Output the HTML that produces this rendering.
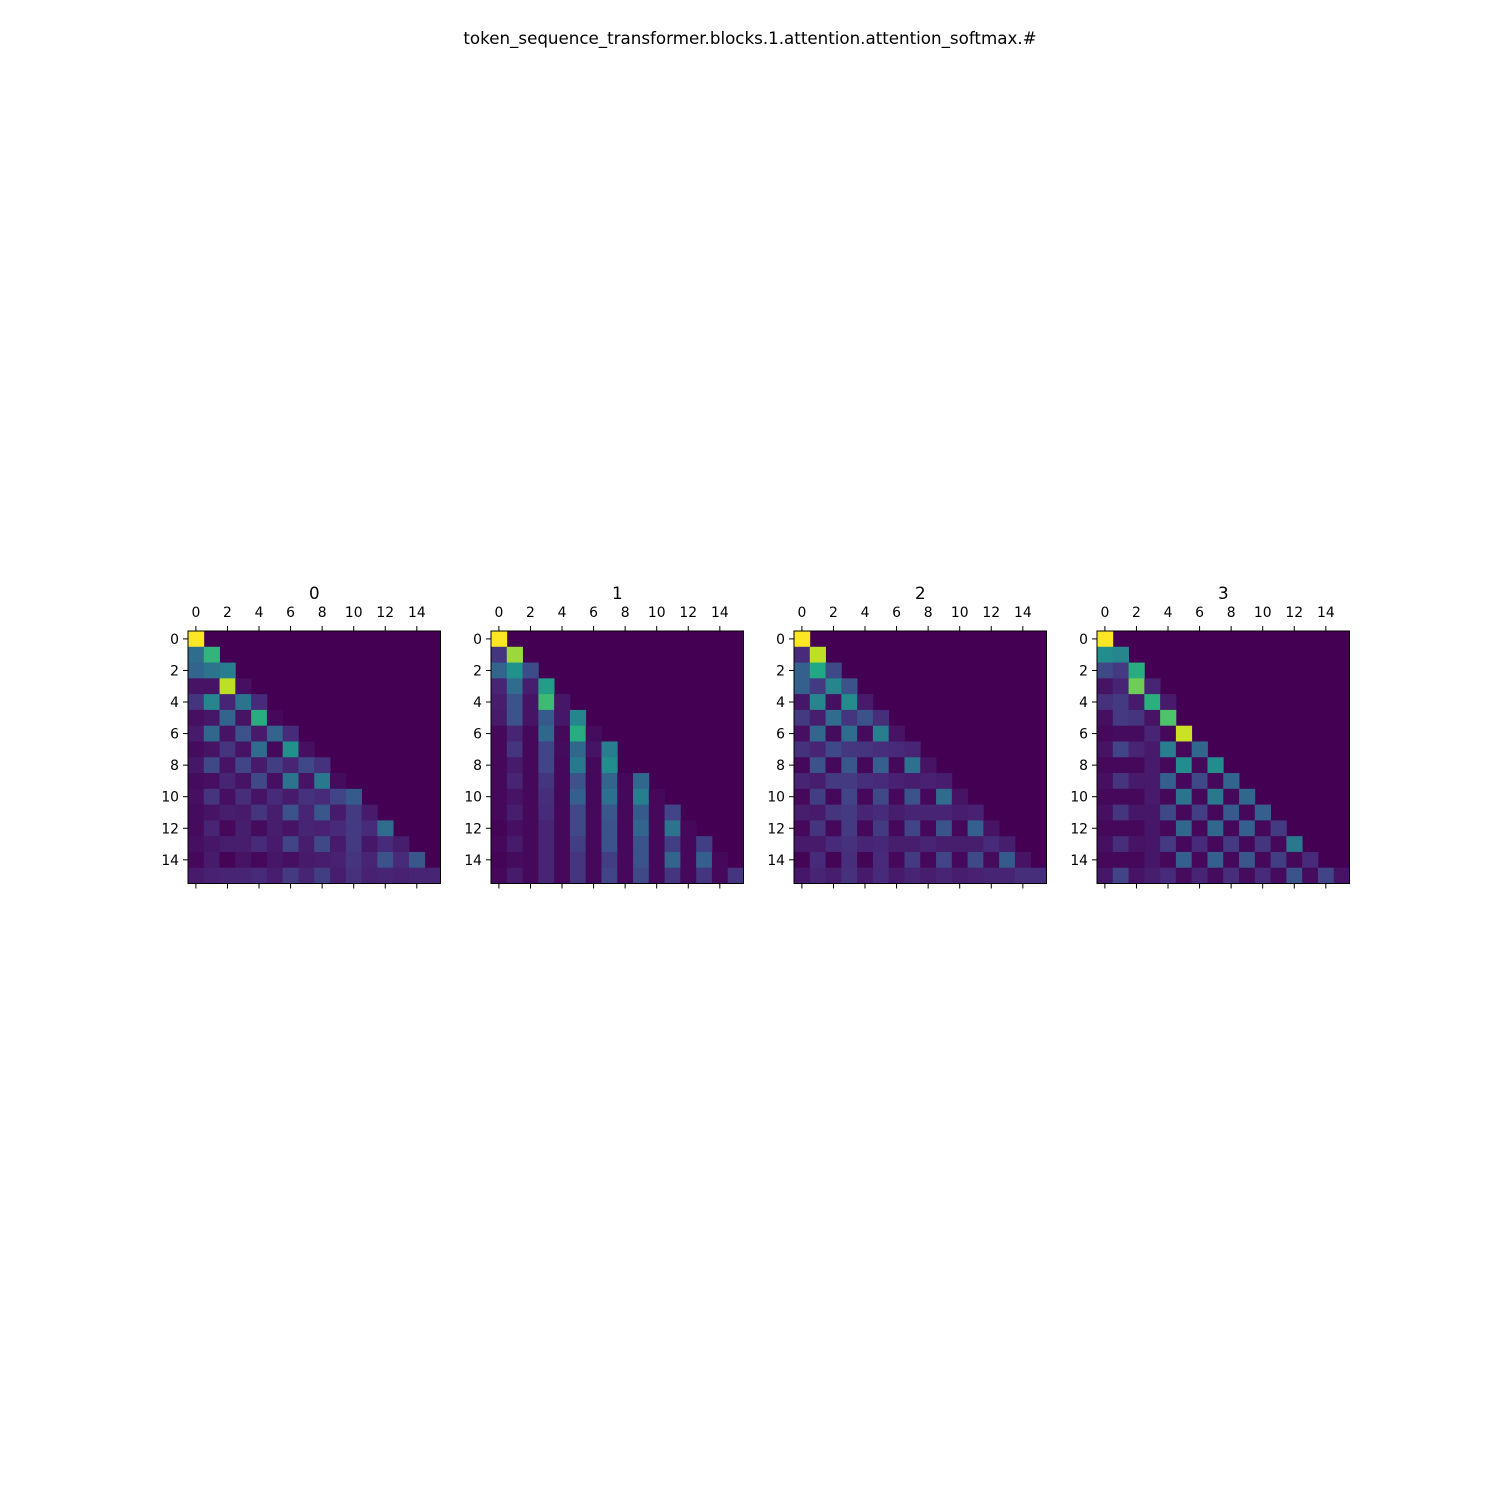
<!DOCTYPE html>
<html><head><meta charset="utf-8"><style>
body{margin:0;background:#fff;}
svg{display:block;font-family:"DejaVu Sans","Liberation Sans",sans-serif;}
</style></head><body>
<svg id="fig" width="1500" height="1500" viewBox="0 0 1500 1500">
<rect width="1500" height="1500" fill="#fff"/>
<text x="750" y="44" text-anchor="middle" font-size="16.7" fill="#000">token_sequence_transformer.blocks.1.attention.attention_softmax.#</text>
</svg>
<script>
const headTitles = ["0","1","2","3"];
const tickLabels = ["0","2","4","6","8","10","12","14"];
const head0 = [[1],[0.35,0.65],[0.32,0.38,0.42],[0.05,0.05,0.9,0.04],[0.15,0.45,0.1,0.38,0.12],[0.04,0.06,0.32,0.05,0.62,0.02],[0.07,0.33,0.05,0.25,0.07,0.32,0.12],[0.03,0.05,0.15,0.05,0.35,0.02,0.5,0.04],[0.06,0.22,0.05,0.2,0.07,0.18,0.1,0.22,0.14],[0.03,0.04,0.1,0.05,0.22,0.04,0.38,0.05,0.4,0.03],[0.04,0.15,0.04,0.13,0.05,0.12,0.07,0.14,0.12,0.2,0.28],[0.03,0.05,0.08,0.07,0.15,0.08,0.25,0.1,0.27,0.07,0.17,0.07],[0.03,0.1,0.02,0.08,0.03,0.08,0.05,0.1,0.09,0.12,0.17,0.12,0.35],[0.04,0.06,0.08,0.08,0.12,0.07,0.2,0.08,0.22,0.07,0.17,0.06,0.12,0.08],[0.02,0.07,0.01,0.05,0.02,0.06,0.04,0.07,0.08,0.09,0.15,0.1,0.25,0.12,0.27],[0.07,0.09,0.1,0.1,0.12,0.08,0.17,0.1,0.18,0.08,0.14,0.09,0.1,0.09,0.1,0.1]];
const head1 = [[1],[0.15,0.85],[0.32,0.5,0.23],[0.1,0.35,0.08,0.55],[0.08,0.25,0.05,0.68,0.06],[0.07,0.25,0.05,0.28,0.06,0.45],[0.02,0.1,0.02,0.33,0.02,0.62,0.03],[0.02,0.15,0.02,0.2,0.03,0.33,0.05,0.42],[0.02,0.07,0.02,0.2,0.02,0.4,0.02,0.48],[0.02,0.1,0.02,0.15,0.02,0.25,0.02,0.32,0.02,0.33],[0.02,0.05,0.02,0.13,0.02,0.3,0.02,0.36,0.02,0.42,0.02],[0.02,0.08,0.02,0.12,0.02,0.22,0.02,0.27,0.02,0.28,0.02,0.2],[0.01,0.04,0.02,0.1,0.02,0.22,0.02,0.25,0.02,0.32,0.02,0.38,0.02],[0.02,0.07,0.02,0.1,0.02,0.18,0.02,0.25,0.02,0.25,0.02,0.18,0.02,0.18],[0.01,0.03,0.02,0.1,0.02,0.15,0.02,0.18,0.02,0.25,0.02,0.32,0.02,0.3,0.02],[0.02,0.07,0.02,0.1,0.02,0.15,0.02,0.2,0.02,0.22,0.02,0.15,0.02,0.15,0.02,0.15]];
const head2 = [[1],[0.12,0.9],[0.3,0.6,0.22],[0.3,0.17,0.45,0.25],[0.06,0.45,0.04,0.48,0.07],[0.17,0.08,0.35,0.15,0.25,0.13],[0.04,0.33,0.03,0.35,0.03,0.42,0.05],[0.14,0.1,0.22,0.16,0.15,0.13,0.12,0.1],[0.02,0.25,0.02,0.27,0.02,0.3,0.02,0.37,0.05],[0.1,0.08,0.17,0.17,0.13,0.12,0.09,0.08,0.09,0.08],[0.02,0.18,0.02,0.2,0.02,0.22,0.02,0.25,0.02,0.35,0.05],[0.08,0.07,0.15,0.17,0.1,0.12,0.08,0.1,0.1,0.1,0.08,0.09],[0.02,0.15,0.02,0.17,0.02,0.17,0.02,0.2,0.02,0.26,0.02,0.3,0.05],[0.07,0.07,0.12,0.14,0.1,0.11,0.08,0.08,0.1,0.08,0.08,0.08,0.12,0.08],[0.01,0.12,0.01,0.13,0.01,0.12,0.02,0.17,0.02,0.2,0.02,0.22,0.03,0.28,0.05],[0.06,0.1,0.08,0.14,0.07,0.12,0.07,0.1,0.08,0.1,0.08,0.09,0.1,0.1,0.13,0.13]];
const head3 = [[1],[0.48,0.45],[0.22,0.17,0.62],[0.05,0.1,0.78,0.1],[0.14,0.17,0.07,0.63,0.07],[0.04,0.17,0.15,0.05,0.72],[0.02,0.03,0.03,0.1,0.02,0.92],[0.05,0.2,0.1,0.07,0.42,0.02,0.33],[0.02,0.02,0.02,0.07,0.02,0.48,0.02,0.48],[0.04,0.15,0.07,0.07,0.3,0.02,0.22,0.02,0.32],[0.02,0.02,0.02,0.07,0.02,0.38,0.02,0.4,0.02,0.33],[0.04,0.15,0.06,0.06,0.22,0.02,0.18,0.02,0.28,0.02,0.3],[0.02,0.02,0.02,0.06,0.02,0.33,0.02,0.33,0.02,0.3,0.02,0.17],[0.04,0.13,0.05,0.06,0.17,0.02,0.12,0.02,0.17,0.02,0.15,0.02,0.4],[0.02,0.02,0.02,0.06,0.02,0.3,0.02,0.3,0.02,0.27,0.02,0.18,0.02,0.12],[0.06,0.2,0.05,0.08,0.12,0.03,0.1,0.03,0.13,0.03,0.12,0.03,0.25,0.03,0.2,0.05]];
const heads = [head0, head1, head2, head3];

const VIR = ["#440154","#482475","#414487","#355f8d","#2a788e","#21918c","#22a884","#44bf70","#7ad151","#bddf26","#fde725"];
function hex(h){return [1,3,5].map(i=>parseInt(h.substr(i,2),16));}
function viridis(t){t=Math.max(0,Math.min(1,t));const p=t*10,i=Math.min(9,Math.floor(p)),f=p-i;const a=hex(VIR[i]),b=hex(VIR[i+1]);return 'rgb('+a.map((v,k)=>Math.round(v+(b[k]-v)*f)).join(',')+')';}
const NS="http://www.w3.org/2000/svg";
const svgRoot=document.getElementById('fig');
function mk(tag,attrs,parent){const e=document.createElementNS(NS,tag);for(const k in attrs)e.setAttribute(k,attrs[k]);parent.appendChild(e);return e;}
const N=16, gridSize=252.5, gridTop=631, gridLefts=[188,491,794,1097];
heads.forEach((data,h)=>{
  const L=gridLefts[h], cell=gridSize/N;
  const xs=c=>L+c*cell, ys=r=>gridTop+r*cell;
  const g=mk('g',{},svgRoot);
  
  
  const bg=mk('rect',{x:L,y:gridTop,width:gridSize,height:gridSize,fill:viridis(0)},g);
  
  
  data.forEach((row,r)=>row.forEach((v,c)=>{
    const cr=mk('rect',{x:xs(c),y:ys(r),width:cell+0.4,height:cell+0.4,fill:viridis(v)},g);
    
    
  }));
  const fr=mk('rect',{x:L,y:gridTop,width:gridSize,height:gridSize,fill:'none',stroke:'#000','stroke-width':1},g);
  
  
  const t=mk('text',{x:L+gridSize/2,y:599,'text-anchor':'middle','font-size':16.7,fill:'#000'},g);
  t.textContent=headTitles[h];
  
  
  tickLabels.forEach((lab,i)=>{
    const idx=i*2, cx=xs(idx+0.5), cy=ys(idx+0.5);
    mk('line',{x1:cx,y1:gridTop,x2:cx,y2:gridTop-5,stroke:'#000'},g);
    mk('line',{x1:cx,y1:gridTop+gridSize,x2:cx,y2:gridTop+gridSize+5,stroke:'#000'},g);
    mk('line',{x1:L,y1:cy,x2:L-5,y2:cy,stroke:'#000'},g);
    const xt=mk('text',{x:cx,y:617,'text-anchor':'middle','font-size':13.9,fill:'#000'},g);
    xt.textContent=lab;
    
    
    const yt=mk('text',{x:L-9,y:cy+5,'text-anchor':'end','font-size':13.9,fill:'#000'},g);
    yt.textContent=lab;
    
    
  });
});
</script>
</body></html>
